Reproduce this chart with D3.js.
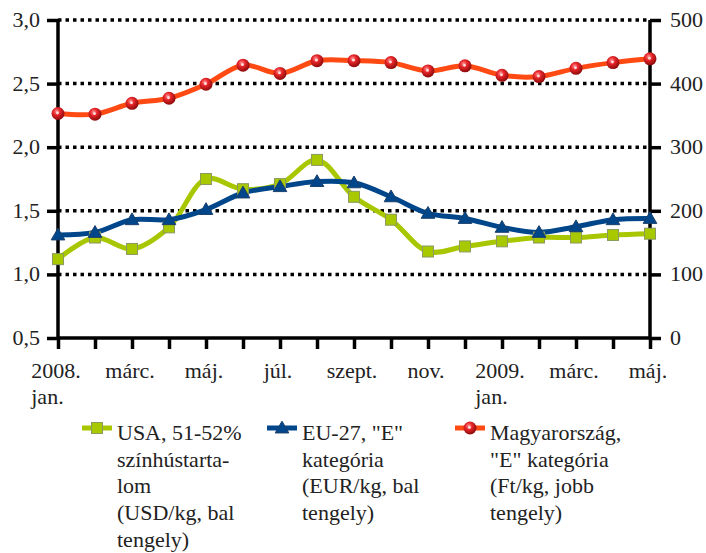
<!DOCTYPE html>
<html><head><meta charset="utf-8">
<script src="https://cdn.jsdelivr.net/npm/d3@7"></script>
</head><body style="margin:0">
<svg id="c" width="706" height="553" style="display:block"></svg>
<script>
const xLabels = [["2008.","jan."],null,["márc."],null,["máj."],null,["júl."],null,["szept."],null,["nov."],null,["2009.","jan."],null,["márc."],null,["máj."]];
const usa = [1.12,1.29,1.20,1.37,1.75,1.67,1.71,1.90,1.61,1.43,1.18,1.22,1.26,1.29,1.29,1.31,1.32];
const eu  = [1.31,1.33,1.43,1.43,1.51,1.64,1.69,1.73,1.72,1.61,1.48,1.44,1.37,1.33,1.375,1.43,1.44];
const hu  = [353,352,369,377,399,429,416,436,436,433,420,428,413,411,424,433,439];
const leftTicks = [0.5,1.0,1.5,2.0,2.5,3.0];
const rightTicks = [0,100,200,300,400,500];
const legendItems = [
  {name:"usa", lines:["USA, 51-52%","színhústarta-","lom","(USD/kg, bal","tengely)"]},
  {name:"eu", lines:["EU-27, \"E\"","kategória","(EUR/kg, bal","tengely)"]},
  {name:"hu", lines:["Magyarország,","\"E\" kategória","(Ft/kg, jobb","tengely)"]}
];
const colors = {usa:"#A8C700", eu:"#00468A", hu:"#FF4A14"};
const fs = 22;
const tcol = "#222";

const svg = d3.select("#c");
const L=58, R=650, T=20, B=338;
const x = d3.scaleLinear().domain([0,16]).range([L,R]);
const yl = d3.scaleLinear().domain([0.5,3.0]).range([B,T]);
const yr = d3.scaleLinear().domain([0,500]).range([B,T]);

function txt(parent, tx, ty, s, anchor){
  return parent.append("text").attr("x",tx).attr("y",ty).attr("font-family","Liberation Serif")
    .attr("font-size",fs).attr("fill",tcol).attr("text-anchor",anchor||"start").text(s);
}

const defs = svg.append("defs");
const rg = defs.append("radialGradient").attr("id","ball").attr("cx","40%").attr("cy","35%").attr("r","65%");
rg.append("stop").attr("offset","0%").attr("stop-color","#ff9a9a");
rg.append("stop").attr("offset","40%").attr("stop-color","#e8262a");
rg.append("stop").attr("offset","100%").attr("stop-color","#8c0a0a");

// gridlines
svg.append("g").selectAll("line").data(leftTicks.slice(1)).join("line")
  .attr("x1",L).attr("x2",R).attr("y1",d=>yl(d)).attr("y2",d=>yl(d))
  .attr("stroke","#000").attr("stroke-width",3.5).attr("stroke-dasharray","3.5,4");

// axes (lines and ticks via d3 axes, labels as plain texts)
const la = svg.append("g").attr("transform",`translate(${L},0)`).call(d3.axisLeft(yl).tickValues(leftTicks).tickSize(11).tickFormat(""));
const ra = svg.append("g").attr("transform",`translate(${R},0)`).call(d3.axisRight(yr).tickValues(rightTicks).tickSize(11).tickFormat(""));
const ba = svg.append("g").attr("transform",`translate(0,${B})`).call(d3.axisBottom(x).tickValues(d3.range(17)).tickSize(11).tickFormat(""));
[la,ra,ba].forEach(a=>{
  a.attr("font-family",null).attr("font-size",null);
  a.select(".domain").attr("stroke","#000").attr("stroke-width",3.5);
  a.selectAll(".tick line").attr("stroke","#000").attr("stroke-width",3.5);
  a.selectAll(".tick text").remove();
});
la.select(".domain").attr("d",`M0,${B}V${T}`);
ra.select(".domain").attr("d",`M0,${B}V${T}`);
ba.select(".domain").attr("d",`M${L},0H${R}`);

const labs = svg.append("g");
leftTicks.forEach(v=>txt(labs, L-18, yl(v)+7, d3.format(".1f")(v).replace(".",","), "end"));
rightTicks.forEach(v=>txt(labs, R+20, yr(v)+7, String(v), "start"));

// x labels
xLabels.forEach((lab,i)=>{
  if(!lab) return;
  const first = txt(labs, x(i)-2, 378, lab[0], "middle");
  if(lab[1]){
    const w = first.node().getComputedTextLength();
    txt(labs, x(i)-2-w/2, 404, lab[1], "start");
  }
});

// lines
const line = (ys,scale)=>d3.line().x((d,i)=>x(i)).y(d=>scale(d)).curve(d3.curveCatmullRom.alpha(0.5))(ys);
svg.append("path").attr("d",line(usa,yl)).attr("fill","none").attr("stroke",colors.usa).attr("stroke-width",5);
svg.append("path").attr("d",line(eu,yl)).attr("fill","none").attr("stroke",colors.eu).attr("stroke-width",5);
svg.append("path").attr("d",line(hu,yr)).attr("fill","none").attr("stroke",colors.hu).attr("stroke-width",5);

function sq(sel,cx,cy,s){sel.append("rect").attr("x",cx-s/2).attr("y",cy-s/2).attr("width",s).attr("height",s).attr("fill","#A8C800").attr("stroke","#8a9a60").attr("stroke-width",1);}
function tri(sel,cx,cy,s){sel.append("path").attr("d",`M${cx},${cy-s*0.62}L${cx+s*0.62},${cy+s*0.45}L${cx-s*0.62},${cy+s*0.45}Z`).attr("fill","#00468A").attr("stroke","#1b3f6a").attr("stroke-width",1);}
function ball(sel,cx,cy,r){sel.append("circle").attr("cx",cx).attr("cy",cy).attr("r",r).attr("fill","url(#ball)");
  sel.append("circle").attr("cx",cx-0.5).attr("cy",cy-0.5).attr("r",1.4).attr("fill","#fff").attr("opacity",0.8);}

const mk = svg.append("g");
usa.forEach((d,i)=>sq(mk,x(i),yl(d),11));
eu.forEach((d,i)=>tri(mk,x(i),yl(d),11));
hu.forEach((d,i)=>ball(mk,x(i),yr(d),6.5));

// legend
const lx = [82,267,455];
legendItems.forEach((it,k)=>{
  const gg = svg.append("g");
  const cy = 428;
  gg.append("line").attr("x1",lx[k]).attr("x2",lx[k]+30).attr("y1",cy).attr("y2",cy).attr("stroke",colors[it.name]).attr("stroke-width",5);
  if(it.name==="usa") sq(gg,lx[k]+15,cy,11);
  if(it.name==="eu") tri(gg,lx[k]+15,cy,11);
  if(it.name==="hu") ball(gg,lx[k]+15,cy,6.5);
  it.lines.forEach((t,j)=>txt(gg, lx[k]+35, 440+j*26.7, t, "start"));
});
</script>
</body></html>
